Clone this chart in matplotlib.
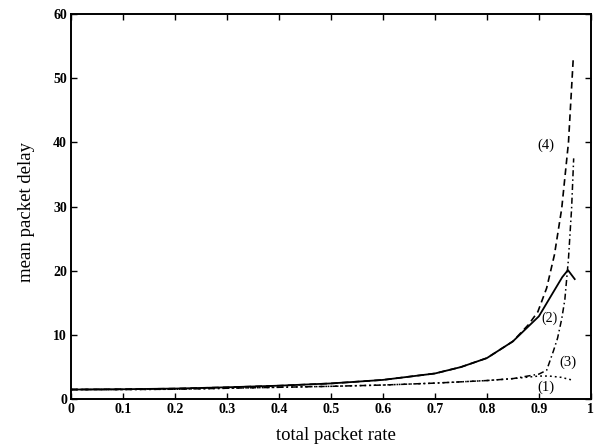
import matplotlib
matplotlib.use("Agg")
import matplotlib.pyplot as plt
from matplotlib.ticker import FuncFormatter

plt.rcParams['font.family'] = ['Liberation Serif', 'DejaVu Serif']

# Curve (2): solid
x2 = [0.0, 0.1, 0.2, 0.3, 0.4, 0.5, 0.6, 0.7, 0.75, 0.8, 0.85, 0.9, 0.928, 0.945, 0.956, 0.969]
y2 = [1.5, 1.55, 1.65, 1.85, 2.1, 2.45, 3.0, 4.0, 5.0, 6.4, 9.0, 12.9, 16.7, 19.0, 20.1, 18.7]

# Curve (4): dashed
x4 = [0.0, 0.1, 0.2, 0.3, 0.4, 0.5, 0.6, 0.7, 0.75, 0.8, 0.85, 0.88, 0.898, 0.915, 0.93, 0.944, 0.957, 0.966]
y4 = [1.5, 1.55, 1.65, 1.85, 2.1, 2.45, 3.0, 4.0, 5.0, 6.4, 9.0, 11.6, 13.6, 17.3, 22.5, 29.7, 40.0, 52.8]

# Curve (3): dash-dot
x3 = [0.0, 0.1, 0.2, 0.3, 0.4, 0.5, 0.6, 0.7, 0.8, 0.85, 0.9, 0.915, 0.928, 0.936, 0.944, 0.95, 0.957, 0.963, 0.967]
y3 = [1.5, 1.5, 1.55, 1.7, 1.85, 2.0, 2.2, 2.5, 2.9, 3.2, 3.9, 4.5, 7.5, 9.5, 12.5, 15.5, 21.9, 29.7, 37.5]

# Curve (1): dotted
x1 = [0.0, 0.1, 0.2, 0.3, 0.4, 0.5, 0.6, 0.7, 0.8, 0.85, 0.9, 0.92, 0.943, 0.963]
y1 = [1.5, 1.5, 1.55, 1.7, 1.85, 2.0, 2.2, 2.5, 2.9, 3.2, 3.6, 3.6, 3.4, 3.0]

curve_labels = ["(4)", "(2)", "(3)", "(1)"]
xticks = [0, 0.1, 0.2, 0.3, 0.4, 0.5, 0.6, 0.7, 0.8, 0.9, 1.0]
yticks = [0, 10, 20, 30, 40, 50, 60]

fig = plt.figure(figsize=(5.98, 4.48), dpi=100)
ax = fig.add_axes([0.119, 0.109, 0.869, 0.860])

ax.plot(x1, y1, color='black', lw=1.1, linestyle=(0, (1.2, 2.0)))
ax.plot(x3, y3, color='black', lw=1.1, linestyle=(0, (4, 2, 1, 2)))
ax.plot(x4, y4, color='black', lw=1.2, linestyle=(0, (4, 2.5)))
ax.plot(x2, y2, color='black', lw=1.3, linestyle='-')

ax.text(0.914, 39.6, curve_labels[0], fontsize=10.5, ha='center', va='center')
ax.text(0.921, 12.6, curve_labels[1], fontsize=10, ha='center', va='center')
ax.text(0.955, 5.8, curve_labels[2], fontsize=10.5, ha='center', va='center')
ax.text(0.914, 1.9, curve_labels[3], fontsize=10.5, ha='center', va='center')

ax.set_xlim(0, 1)
ax.set_ylim(0, 60)
ax.set_xticks(xticks)
ax.set_yticks(yticks)
ax.xaxis.set_major_formatter(FuncFormatter(lambda v, p: ('%g' % v)))
ax.tick_params(direction='in', top=True, right=True, length=4, width=1, labelsize=10, pad=3)
for lab in ax.get_xticklabels() + ax.get_yticklabels():
    lab.set_fontweight('bold')
for s in ax.spines.values():
    s.set_linewidth(1.4)

ax.set_xlabel('total packet rate', fontsize=13.5)
ax.set_ylabel('mean packet delay', fontsize=13.5)
ax.xaxis.set_label_coords(0.51, -0.072)
ax.yaxis.set_label_coords(-0.07, 0.486)

fig.savefig('out.png', dpi=100)
